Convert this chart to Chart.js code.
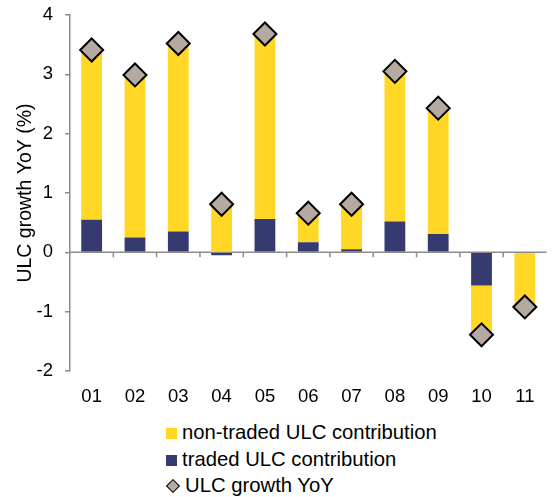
<!DOCTYPE html>
<html>
<head>
<meta charset="utf-8">
<script src="https://cdn.jsdelivr.net/npm/chart.js@4"></script>
<style>
  html, body { margin: 0; padding: 0; background: #fff; overflow: hidden; }
  #wrap { position: relative; width: 553px; height: 497px; overflow: hidden; }
  #chart { position: absolute; left: 0; top: 0; }
  #legend { position: absolute; left: 166px; top: 419px; font-family: "Liberation Sans", Arial, sans-serif; font-size: 20.3px; color: #000; }
  .row { height: 26.5px; line-height: 26.5px; white-space: nowrap; }
  .sw { display: inline-block; width: 11px; height: 11px; margin-right: 5px; vertical-align: 0px; }
  .dia { display: inline-block; width: 8px; height: 8px; margin: 0 7px 0 2px; background: #b5aaa1; border: 1.5px solid #000; transform: rotate(45deg); vertical-align: 1px; }
</style>
</head>
<body>
<div id="wrap">
  <canvas id="chart"></canvas>
  <div id="legend">
    <div class="row"><span class="sw" style="background:#ffd724"></span>non-traded ULC contribution</div>
    <div class="row"><span class="sw" style="background:#353b70"></span>traded ULC contribution</div>
    <div class="row"><span class="dia"></span>ULC growth YoY</div>
  </div>
</div>
<script>
const categories = ['01', '02', '03', '04', '05', '06', '07', '08', '09', '10', '11'];
const tradedULC = [0.55, 0.25, 0.35, -0.05, 0.56, 0.17, 0.05, 0.52, 0.31, -0.56, 0.0];
const nonTradedULC = [2.86, 2.74, 3.17, 0.86, 3.12, 0.49, 0.76, 2.53, 2.12, -0.83, -0.92];
const ulcGrowth = [3.41, 2.99, 3.52, 0.81, 3.68, 0.66, 0.81, 3.05, 2.43, -1.39, -0.92];
const yTicks = [-2, -1, 0, 1, 2, 3, 4];

const canvas = document.getElementById('chart');
canvas.width = 560;
canvas.height = 410;
canvas.style.width = '560px';
canvas.style.height = '410px';
const ctx = canvas.getContext('2d');

const axisGrey = '#8c8c8c';

// zero line with small ticks between categories
const zeroLine = {
    id: 'zeroLine',
    beforeDatasetsDraw(chart) {
        const { ctx, chartArea, scales: { x, y } } = chart;
        const y0 = y.getPixelForValue(0);
        ctx.save();
        ctx.strokeStyle = axisGrey;
        ctx.lineWidth = 1.5;
        ctx.beginPath();
        ctx.moveTo(chartArea.left, y0);
        ctx.lineTo(chartArea.right, y0);
        for (let i = 1; i < categories.length; i++) {
            const xb = (x.getPixelForValue(i - 1) + x.getPixelForValue(i)) / 2;
            ctx.moveTo(xb, y0);
            ctx.lineTo(xb, y0 + 5);
        }
        ctx.stroke();
        ctx.restore();
    }
};

new Chart(ctx, {
    data: {
        labels: categories,
        datasets: [
            {
                type: 'line',
                label: 'ULC growth YoY',
                data: ulcGrowth,
                showLine: false,
                pointStyle: 'rectRot',
                pointRadius: 11.5,
                pointHoverRadius: 11.5,
                pointBackgroundColor: '#b5aaa1',
                pointBorderColor: '#000',
                pointBorderWidth: 2,
                order: 0,
                stack: 'line'
            },
            {
                type: 'bar',
                label: 'traded ULC contribution',
                data: tradedULC,
                backgroundColor: '#353b70',
                order: 1,
                stack: 'ulc'
            },
            {
                type: 'bar',
                label: 'non-traded ULC contribution',
                data: nonTradedULC,
                backgroundColor: '#ffd724',
                order: 1,
                stack: 'ulc'
            }
        ]
    },
    options: {
        responsive: false,
        animation: false,
        layout: { padding: { top: 15, right: 2, bottom: 3, left: 0 } },
        datasets: {
            bar: { barPercentage: 0.48, categoryPercentage: 1 }
        },
        scales: {
            x: {
                stacked: true,
                grid: { display: false },
                border: { display: false },
                ticks: {
                    padding: 7,
                    color: '#000',
                    font: { family: 'Liberation Sans', size: 18.5 }
                },
                afterFit(scale) { scale.height = 36; }
            },
            y: {
                stacked: true,
                min: -2,
                max: 4,
                afterBuildTicks(scale) {
                    scale.ticks = yTicks.map(v => ({ value: v }));
                },
                grid: {
                    drawOnChartArea: false,
                    drawTicks: true,
                    tickLength: 5,
                    color: axisGrey,
                    lineWidth: 1.5
                },
                border: { color: axisGrey, width: 1.5 },
                ticks: {
                    padding: 12,
                    color: '#000',
                    font: { family: 'Liberation Sans', size: 18.5 }
                },
                title: {
                    display: true,
                    text: 'ULC growth YoY (%)',
                    color: '#000',
                    font: { family: 'Liberation Sans', size: 19.5 },
                    padding: { top: 14 }
                },
                afterFit(scale) {
                    scale.width = 70;
                    scale.paddingTop = 0;
                    scale.paddingBottom = 0;
                }
            }
        },
        plugins: {
            legend: { display: false },
            tooltip: { enabled: false }
        }
    },
    plugins: [zeroLine]
});
</script>
</body>
</html>
